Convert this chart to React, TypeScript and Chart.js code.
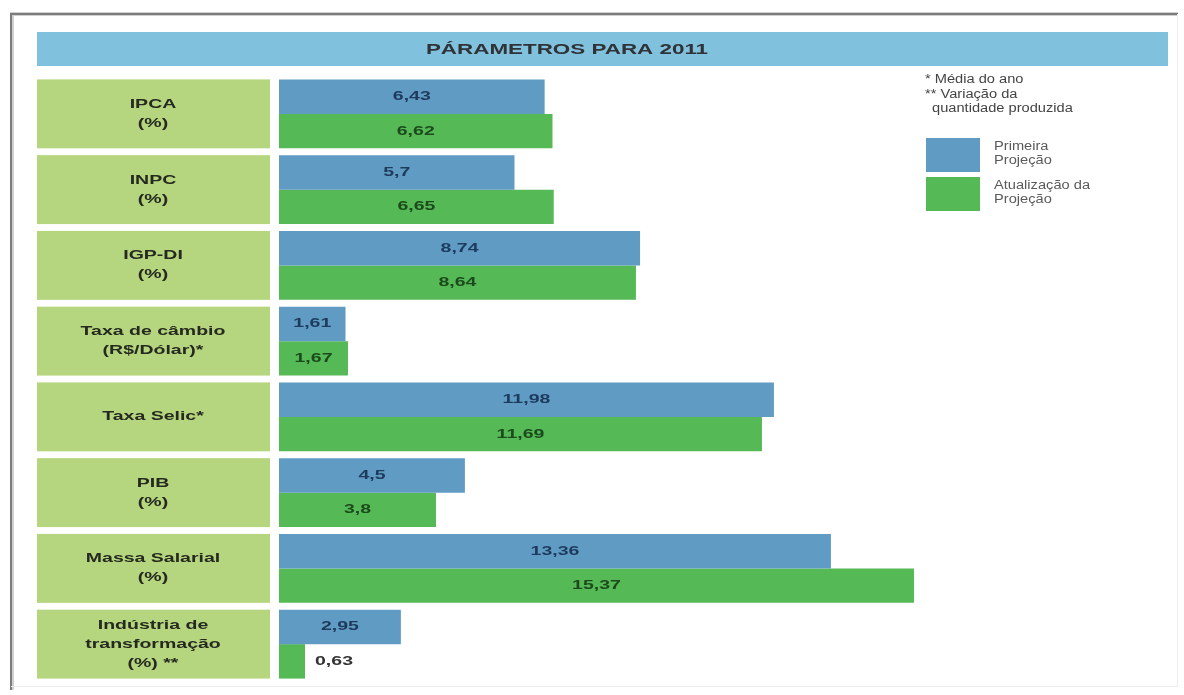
import { useEffect, useRef } from "react";
import { Chart, registerables } from "chart.js";

Chart.register(...registerables);

const TITLE = "PÁRAMETROS PARA 2011";
const CATEGORIES: string[][] = [
  ["IPCA", "(%)"],
  ["INPC", "(%)"],
  ["IGP-DI", "(%)"],
  ["Taxa de câmbio", "(R$/Dólar)*"],
  ["Taxa Selic*"],
  ["PIB", "(%)"],
  ["Massa Salarial", "(%)"],
  ["Indústria de", "transformação", "(%) **"],
];
const SERIES_NAMES = ["Primeira Projeção", "Atualização da Projeção"];
const LEGEND_LINES: string[][] = [
  ["Primeira", "Projeção"],
  ["Atualização da", "Projeção"],
];
const PRIMEIRA = [6.43, 5.7, 8.74, 1.61, 11.98, 4.5, 13.36, 2.95];
const ATUALIZACAO = [6.62, 6.65, 8.64, 1.67, 11.69, 3.8, 15.37, 0.63];
const NOTES = ["* Média do ano", "** Variação da", "quantidade produzida"];
const X_MAX = 16;

const FONT = '"Liberation Sans", Arial, Helvetica, sans-serif';
const COLORS = ["#5f9bc3", "#55b956"];
const LABEL_COLORS = ["#1e3a5c", "#1c4a1c"];
const CELL_COLOR = "#b5d67e";
const TITLE_BG = "#80c1de";
const BOLD_SX = 1.5;
const NORMAL_SX = 1.22;

const fmt = (v: number) => String(v).replace(".", ",");

function stretchText(ctx: CanvasRenderingContext2D, t: string, x: number, y: number, sx: number) {
  ctx.save();
  ctx.translate(x, y);
  ctx.scale(sx, 1);
  ctx.fillText(t, 0, 0);
  ctx.restore();
}

const decor = {
  id: "decor",
  beforeDraw(chart: any) {
    const ctx = chart.ctx as CanvasRenderingContext2D;
    const y = chart.scales.y;
    ctx.save();
    ctx.fillStyle = "#ffffff";
    ctx.fillRect(0, 0, chart.width, chart.height);

    // frame
    ctx.strokeStyle = "#d0d0d0";
    ctx.lineWidth = 4;
    ctx.beginPath();
    ctx.moveTo(12, 690);
    ctx.lineTo(12, 14);
    ctx.lineTo(1178, 14);
    ctx.stroke();
    ctx.strokeStyle = "#7c7c7c";
    ctx.lineWidth = 2;
    ctx.beginPath();
    ctx.moveTo(11, 690);
    ctx.lineTo(11, 14);
    ctx.lineTo(1178, 14);
    ctx.stroke();
    ctx.strokeStyle = "#ececec";
    ctx.lineWidth = 1;
    ctx.beginPath();
    ctx.moveTo(1177.5, 14);
    ctx.lineTo(1177.5, 686.5);
    ctx.lineTo(11, 686.5);
    ctx.stroke();

    // title bar
    ctx.fillStyle = TITLE_BG;
    ctx.fillRect(37, 32, 1131, 34);
    ctx.fillStyle = "#2f3236";
    ctx.font = `bold 14px ${FONT}`;
    ctx.textAlign = "center";
    ctx.textBaseline = "middle";
    stretchText(ctx, TITLE, 567, 50, 1.6);

    // category cells
    const labels = chart.data.labels as string[][];
    const band = y.getPixelForValue(1) - y.getPixelForValue(0);
    const h = band * 0.91;
    ctx.font = `bold 13px ${FONT}`;
    labels.forEach((lines, i) => {
      const cy = y.getPixelForValue(i);
      ctx.fillStyle = CELL_COLOR;
      ctx.fillRect(37, cy - h / 2, 233, h);
      ctx.fillStyle = "#26291f";
      const lh = 19;
      const start = cy - ((lines.length - 1) * lh) / 2;
      lines.forEach((t, k) => stretchText(ctx, t, 153, start + k * lh, BOLD_SX));
    });
    ctx.restore();
  },
  afterDatasetsDraw(chart: any) {
    const ctx = chart.ctx as CanvasRenderingContext2D;
    ctx.save();
    ctx.font = `bold 13px ${FONT}`;
    ctx.textBaseline = "middle";
    chart.data.datasets.forEach((ds: any, di: number) => {
      const meta = chart.getDatasetMeta(di);
      meta.data.forEach((bar: any, i: number) => {
        const txt = fmt(ds.data[i]);
        const w = ctx.measureText(txt).width * BOLD_SX;
        const left = Math.min(bar.base, bar.x);
        const right = Math.max(bar.base, bar.x);
        if (right - left < w + 2) {
          ctx.textAlign = "left";
          ctx.fillStyle = "#333333";
          stretchText(ctx, txt, right + 10, bar.y, BOLD_SX);
        } else {
          ctx.textAlign = "center";
          ctx.fillStyle = LABEL_COLORS[di];
          stretchText(ctx, txt, (left + right) / 2, bar.y, BOLD_SX);
        }
      });
    });
    ctx.restore();
  },
  afterDraw(chart: any) {
    const ctx = chart.ctx as CanvasRenderingContext2D;
    ctx.save();
    ctx.font = `12px ${FONT}`;
    ctx.textBaseline = "middle";
    ctx.textAlign = "left";
    ctx.fillStyle = "#444444";
    stretchText(ctx, NOTES[0], 925, 80, NORMAL_SX);
    stretchText(ctx, NOTES[1], 925, 95, NORMAL_SX);
    stretchText(ctx, NOTES[2], 932, 109, NORMAL_SX);

    const boxes = [138, 177];
    chart.data.datasets.forEach((ds: any, di: number) => {
      ctx.fillStyle = ds.backgroundColor;
      ctx.fillRect(926, boxes[di], 54, 34);
      ctx.fillStyle = "#5a5a5a";
      const lines = LEGEND_LINES[di];
      lines.forEach((t, k) => stretchText(ctx, t, 994, boxes[di] + 9 + k * 13.5, NORMAL_SX));
    });
    ctx.restore();
  },
};

export default function App() {
  const ref = useRef<HTMLCanvasElement | null>(null);
  useEffect(() => {
    if (!ref.current) return;
    const chart = new Chart(ref.current, {
      type: "bar",
      data: {
        labels: CATEGORIES,
        datasets: [
          {
            label: SERIES_NAMES[0],
            data: PRIMEIRA,
            backgroundColor: COLORS[0],
            borderWidth: 0,
            categoryPercentage: 0.91,
            barPercentage: 1,
          },
          {
            label: SERIES_NAMES[1],
            data: ATUALIZACAO,
            backgroundColor: COLORS[1],
            borderWidth: 0,
            categoryPercentage: 0.91,
            barPercentage: 1,
          },
        ],
      },
      options: {
        indexAxis: "y",
        responsive: false,
        animation: false,
        layout: { padding: { left: 279, top: 76, right: 1184 - 940, bottom: 13 } },
        scales: {
          x: { display: false, min: 0, max: X_MAX },
          y: { display: false },
        },
        plugins: {
          legend: { display: false },
          title: { display: false },
          tooltip: { enabled: false },
        },
      },
      plugins: [decor],
    });
    return () => chart.destroy();
  }, []);
  return (
    <div style={{ position: "fixed", left: 0, top: 0, width: 1184, height: 695, background: "#fff" }}>
      <canvas ref={ref} width={1184} height={695} style={{ display: "block" }} />
    </div>
  );
}
